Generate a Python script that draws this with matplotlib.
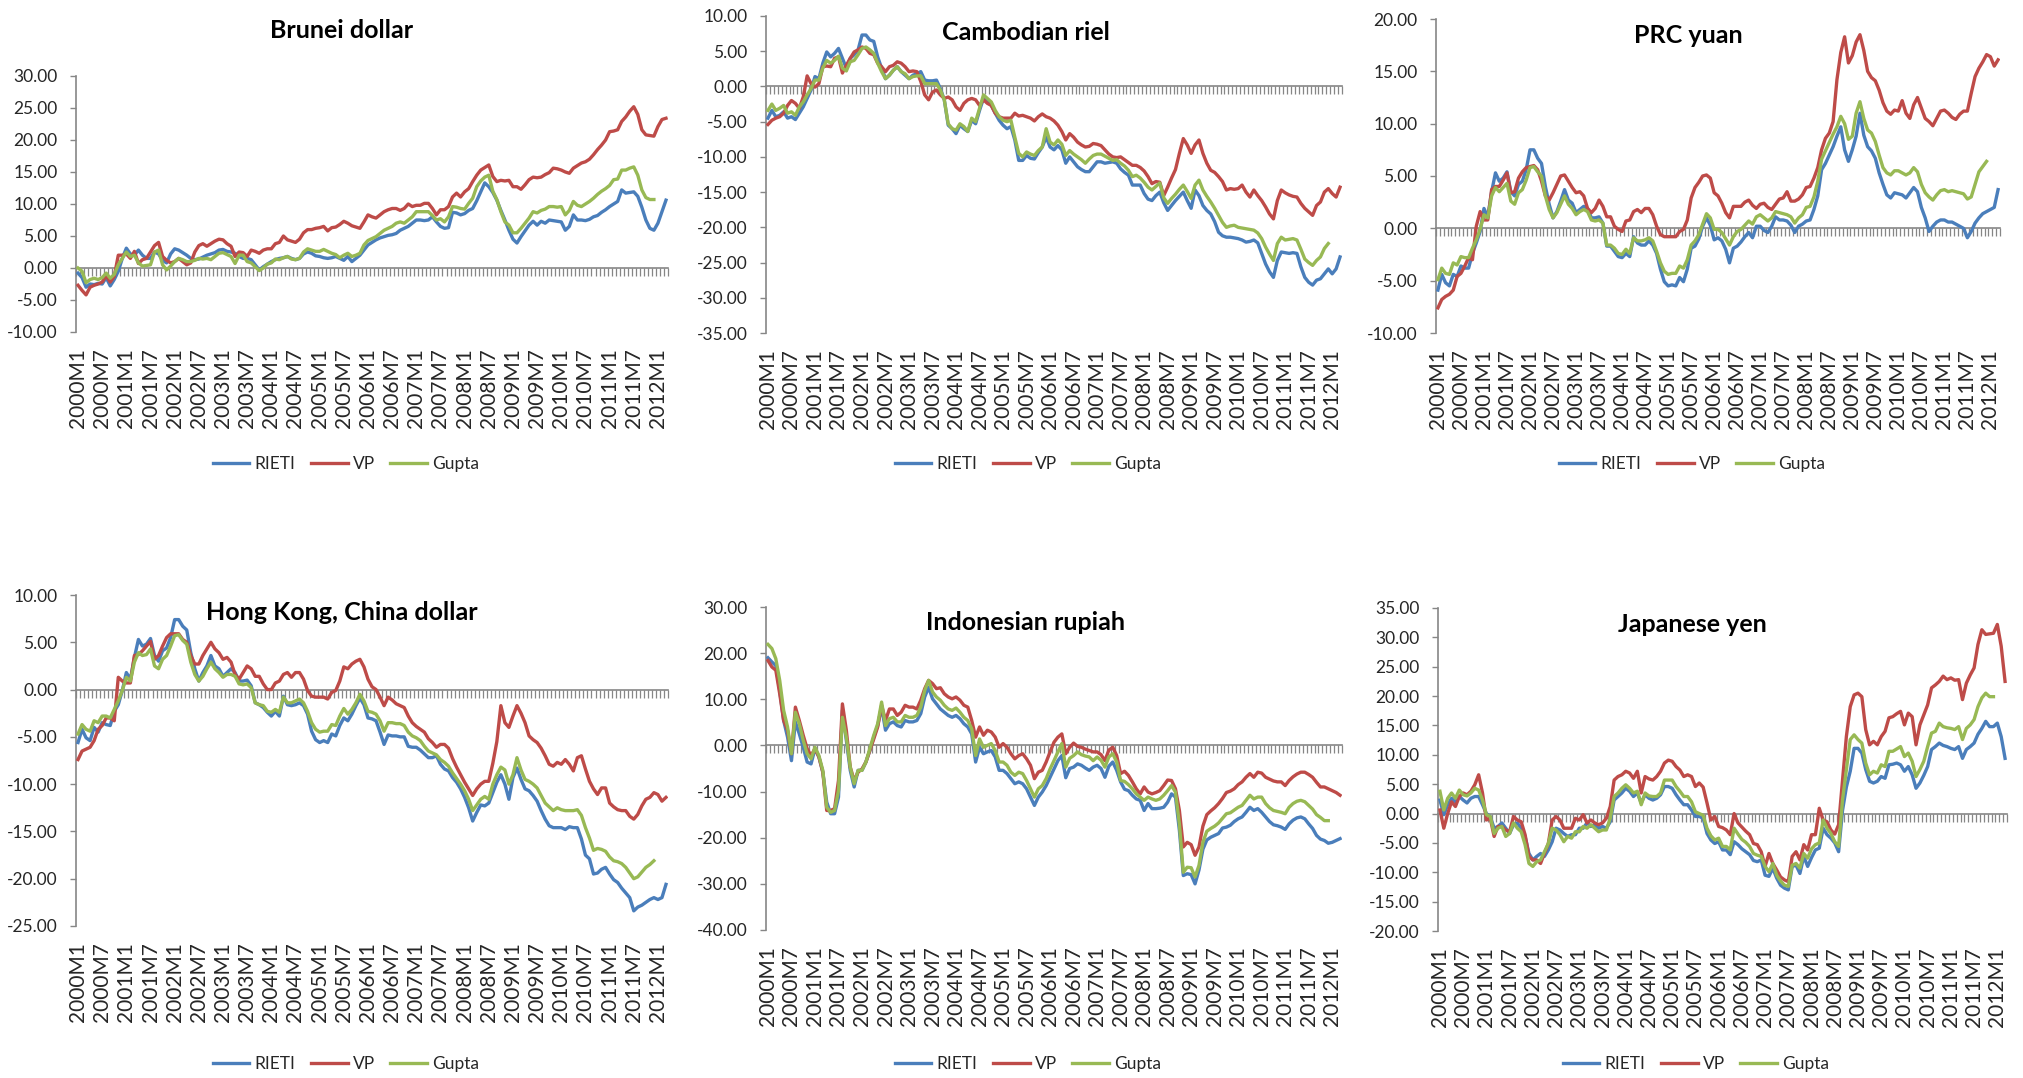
import numpy as np
import matplotlib.pyplot as plt
from matplotlib.ticker import FixedLocator, NullFormatter

plt.rcParams['font.family'] = ['Lato', 'DejaVu Sans']

# monthly categories 2000M1 .. 2012M3
months = [f"{2000 + i // 12}M{i % 12 + 1}" for i in range(147)]
series_names = ['RIETI', 'VP', 'Gupta']

brunei_rieti = [-0.8,-1.5,-3.0,-2.5,-2.6,-2.4,-2.5,-1.5,-2.8,-1.8, -0.5,1.5,3.1,2.2,2.0,2.8,2.0,1.5,1.5,2.5,
    2.2,1.2,0.8,2.2,3.0,2.8,2.4,2.0,1.5,1.3, 1.4,1.7,2.0,2.2,2.4,2.8,2.9,2.6,2.5,2.3,
    1.8,1.5,1.5,1.3,0.5,-0.3,0.2,0.6,1.0,1.3, 1.5,1.6,1.8,1.5,1.3,1.5,2.2,2.5,2.3,1.9,
    1.8,1.6,1.5,1.6,1.8,1.5,1.2,1.8,1.0,1.5, 2.0,2.8,3.6,4.0,4.4,4.7,4.9,5.1,5.2,5.4,
    5.9,6.2,6.5,7.0,7.5,7.5,7.4,7.5,8.0,7.2, 6.5,6.2,6.3,8.7,8.6,8.3,8.5,9.0,9.3,10.5,
    11.9,13.3,12.7,11.8,10.6,9.0,7.5,5.9,4.5,3.9, 4.9,5.8,6.7,7.3,6.7,7.3,7.0,7.5,7.4,7.3,
    7.2,5.9,6.5,8.3,7.5,7.5,7.4,7.6,8.0,8.2, 8.7,9.1,9.6,10.0,10.4,12.2,11.7,11.8,11.9,11.2,
    9.5,7.5,6.2,5.9,7.0,8.8,10.6]
brunei_vp = [-2.7,-3.5,-4.2,-3.0,-2.7,-2.5,-2.2,-1.2,-2.2,-1.3, 2.0,2.0,2.2,1.5,2.6,0.7,1.3,1.5,2.5,3.5,
    4.0,1.8,1.2,0.8,1.0,1.5,1.0,0.5,0.8,2.5, 3.5,3.8,3.4,3.8,4.2,4.5,4.4,3.8,3.4,1.8,
    2.5,2.4,1.8,2.8,2.6,2.3,2.8,3.0,3.0,3.8, 4.0,5.0,4.4,4.2,4.0,4.5,5.5,6.0,6.0,6.2,
    6.3,6.5,5.8,6.3,6.4,6.8,7.3,7.0,6.6,6.4, 6.2,7.2,8.3,8.0,7.8,8.3,8.8,9.1,9.3,9.3,
    9.0,9.3,10.0,9.6,9.8,9.8,10.1,10.1,9.3,8.3, 9.1,9.1,9.6,11.1,11.7,11.1,11.9,12.4,13.5,14.5,
    15.3,15.7,16.1,14.3,13.5,13.7,13.6,13.7,12.7,12.7, 12.3,13.0,13.8,14.2,14.1,14.2,14.6,14.9,15.6,15.5,
    15.3,15.0,14.8,15.6,16.0,16.4,16.6,17.0,17.7,18.5, 19.2,20.0,21.3,21.4,21.6,22.9,23.6,24.5,25.2,24.0,
    21.6,20.8,20.7,20.6,22.1,23.2,23.4]
brunei_gupta = [0.0,-0.5,-2.3,-1.8,-1.6,-1.8,-1.5,-0.8,-1.6,-1.0, 0.5,1.5,2.5,1.8,2.0,0.8,0.3,0.4,0.5,2.5,
    2.8,0.5,-0.3,0.3,1.0,1.5,1.3,1.0,1.0,1.2, 1.5,1.4,1.5,1.3,1.8,2.3,2.4,2.1,1.8,0.7,
    2.0,2.0,1.0,0.8,0.2,-0.4,0.0,0.6,0.8,1.4, 1.3,1.6,1.8,1.4,1.3,1.5,2.5,3.0,2.8,2.6,
    2.6,2.9,2.6,2.3,2.1,1.6,2.0,2.3,1.8,2.0, 2.3,3.6,4.3,4.6,4.9,5.4,5.9,6.2,6.5,7.0,
    7.2,7.0,7.5,8.0,8.8,8.8,8.8,8.8,8.2,7.5, 7.7,7.2,8.0,9.6,9.5,9.3,9.2,10.1,10.9,12.7,
    13.6,14.2,14.5,12.0,10.7,8.8,7.2,6.7,5.5,5.5, 6.2,7.0,7.8,8.8,8.6,9.0,9.2,9.6,9.6,9.5,
    9.6,8.3,9.0,10.4,9.8,9.6,10.0,10.4,10.9,11.5, 12.0,12.4,12.9,13.8,13.9,15.3,15.3,15.6,15.8,14.5,
    12.2,11.0,10.7,10.7]

cambodia_rieti = [-4.5,-3.4,-4.3,-4.1,-3.6,-4.5,-4.3,-4.7,-3.8,-2.9, -1.7,-0.5,1.4,1.1,3.3,4.9,4.2,4.7,5.4,4.0,
    2.6,4.0,4.5,5.2,7.3,7.3,6.6,6.4,4.2,2.6, 1.1,1.6,2.3,2.8,2.1,1.6,1.1,1.6,1.8,2.1,
    0.9,0.8,0.8,0.9,-0.3,-1.9,-5.5,-6.0,-6.7,-5.5, -6.0,-6.4,-4.8,-5.3,-3.4,-1.7,-1.9,-2.7,-3.8,-4.8,
    -5.5,-6.0,-5.7,-7.6,-10.5,-10.5,-9.8,-10.2,-10.3,-9.4, -8.6,-7.2,-8.6,-9.0,-8.4,-9.0,-10.9,-10.0,-10.7,-11.4,
    -11.8,-12.1,-12.1,-11.4,-10.7,-10.7,-10.9,-10.8,-10.7,-10.9, -11.7,-12.2,-12.6,-14.0,-14.0,-14.0,-15.2,-16.0,-16.2,-15.5,
    -15.0,-16.5,-17.6,-16.9,-16.2,-15.6,-15.0,-16.2,-17.3,-14.7, -15.5,-16.9,-17.6,-18.1,-19.2,-20.7,-21.2,-21.4,-21.4,-21.5,
    -21.6,-21.8,-22.1,-22.0,-21.8,-22.2,-23.7,-25.2,-26.3,-27.1, -24.7,-23.5,-23.6,-23.7,-23.6,-23.7,-25.6,-27.1,-27.8,-28.2,
    -27.5,-27.3,-26.6,-25.9,-26.6,-25.9,-24.2]
cambodia_vp = [-5.4,-4.8,-4.5,-4.3,-3.8,-2.7,-2.0,-2.4,-3.1,-1.5, 1.5,0.4,-0.1,0.4,2.8,2.9,2.8,4.0,4.2,1.9,
    3.0,4.0,4.9,5.2,5.6,5.4,4.7,4.5,3.3,2.8, 2.1,2.8,3.0,3.5,3.3,2.8,2.1,2.2,2.1,0.7,
    -1.2,-1.9,-0.8,-0.5,-1.2,-1.7,-1.5,-1.9,-2.9,-3.4, -2.4,-1.9,-1.7,-1.9,-2.7,-1.9,-2.4,-2.7,-3.8,-4.3,
    -4.5,-4.5,-4.5,-3.8,-4.2,-4.1,-4.3,-4.5,-4.9,-4.3, -3.9,-4.3,-4.5,-4.9,-5.5,-6.4,-7.6,-6.7,-7.2,-7.9,
    -8.3,-8.6,-8.5,-8.1,-8.2,-8.4,-9.0,-9.6,-10.0,-10.1, -10.0,-10.4,-10.8,-11.2,-11.2,-11.5,-12.0,-12.8,-13.8,-13.5,
    -13.6,-15.5,-14.3,-13.0,-11.8,-9.5,-7.4,-8.3,-9.5,-8.3, -7.6,-9.5,-10.9,-11.9,-12.2,-12.8,-13.5,-14.7,-14.5,-14.6,
    -14.5,-14.0,-15.0,-15.7,-14.7,-15.5,-16.2,-17.1,-18.1,-18.8, -16.2,-14.7,-15.1,-15.4,-15.6,-15.7,-16.6,-17.3,-17.8,-18.3,
    -16.9,-16.4,-15.0,-14.5,-15.2,-15.7,-14.3]
cambodia_gupta = [-3.4,-2.5,-3.4,-3.1,-2.7,-3.8,-3.6,-4.1,-2.9,-2.2, -1.2,-0.3,0.9,0.9,2.6,3.7,3.3,3.7,4.3,2.6,
    2.2,3.5,3.7,4.5,5.4,5.6,5.2,4.7,3.3,2.1, 1.1,1.6,2.3,2.8,2.1,1.8,1.1,1.4,1.5,1.5,
    0.4,0.4,0.4,0.4,-0.5,-1.9,-5.3,-6.0,-6.2,-5.3, -5.7,-6.4,-4.5,-5.0,-3.1,-1.2,-1.7,-2.2,-3.4,-4.3,
    -4.8,-5.0,-4.8,-7.2,-9.5,-10.0,-9.3,-9.6,-9.8,-9.1, -8.6,-6.0,-7.9,-8.3,-7.6,-8.2,-9.8,-9.1,-9.6,-10.0,
    -10.4,-10.9,-10.3,-9.8,-9.6,-9.6,-9.9,-10.2,-10.5,-10.4, -10.9,-11.3,-11.9,-12.8,-12.6,-13.0,-13.6,-14.3,-14.7,-14.2,
    -13.7,-15.8,-16.6,-15.9,-15.3,-14.6,-14.0,-14.9,-15.9,-14.0, -13.3,-14.7,-15.6,-16.4,-17.3,-18.3,-19.3,-20.0,-19.8,-19.7,
    -20.0,-20.1,-20.2,-20.3,-20.4,-20.8,-21.6,-22.8,-23.8,-24.7, -22.3,-21.4,-21.8,-21.7,-21.6,-21.8,-23.1,-24.5,-25.0,-25.4,
    -24.7,-24.2,-23.0,-22.3]

prc_rieti = [-5.9,-4.4,-5.2,-5.5,-4.4,-4.6,-3.6,-3.8,-3.8,-2.4, -1.4,-0.3,1.9,1.1,3.5,5.3,4.5,4.8,5.4,3.5,
    3.1,4.2,4.5,5.6,7.5,7.5,6.7,6.2,4.0,2.3, 1.0,1.6,2.6,3.7,2.7,2.4,1.5,1.8,2.1,1.9,
    1.0,1.0,1.1,0.5,-1.7,-1.7,-2.2,-2.7,-2.8,-2.4, -2.7,-0.8,-1.4,-1.6,-1.6,-1.2,-1.6,-2.4,-3.9,-5.1,
    -5.5,-5.4,-5.5,-4.7,-5.1,-3.9,-1.9,-1.7,-1.0,0.2, 1.0,0.3,-1.1,-0.9,-1.2,-2.0,-3.3,-1.9,-1.7,-1.3,
    -0.8,-0.4,-0.9,0.2,0.2,-0.2,-0.4,0.2,1.1,0.8, 0.8,0.7,0.3,-0.4,0.2,0.4,0.7,0.8,1.8,3.1,
    5.6,6.2,7.0,7.8,8.8,9.7,7.5,6.4,7.5,8.8, 11.0,8.9,7.8,7.4,6.7,5.3,4.2,3.2,2.9,3.4,
    3.3,3.2,2.9,3.4,3.9,3.5,2.0,1.0,-0.3,0.2, 0.6,0.8,0.8,0.6,0.6,0.4,0.2,0.0,-0.9,-0.3,
    0.5,1.0,1.4,1.6,1.8,2.0,3.7]
prc_vp = [-7.6,-6.8,-6.5,-6.3,-5.9,-4.6,-4.3,-3.6,-2.8,-3.0, 0.2,1.6,0.8,0.8,3.7,4.0,4.0,4.6,5.3,3.4,
    3.5,4.8,5.4,5.8,5.9,6.0,5.6,4.5,3.1,2.7, 3.4,4.2,5.0,5.1,4.5,3.9,3.4,3.5,3.1,1.9,
    1.5,1.9,2.7,2.1,1.1,1.1,0.2,-0.1,-0.3,0.7, 0.8,1.6,1.8,1.5,1.9,1.9,1.3,0.2,-0.6,-0.8,
    -0.8,-0.8,-0.8,-0.3,-0.1,0.8,2.9,3.9,4.4,5.0, 5.1,4.8,3.4,3.1,2.4,1.5,1.0,2.1,2.1,2.1,
    2.5,2.7,2.2,1.9,2.3,2.4,2.0,1.8,2.3,2.8, 2.9,3.5,2.6,2.6,2.8,3.2,3.9,4.0,4.8,5.8,
    7.5,8.6,9.1,10.2,14.2,16.8,18.3,15.8,16.5,17.8, 18.5,17.0,15.0,14.4,14.1,13.2,12.0,11.2,10.9,11.3,
    11.2,12.2,11.0,10.5,11.8,12.5,11.5,10.5,10.2,9.8, 10.5,11.2,11.3,11.0,10.6,10.4,10.9,11.2,11.2,12.9,
    14.5,15.3,15.9,16.6,16.4,15.5,16.1]
prc_gupta = [-4.9,-3.8,-4.3,-4.4,-3.3,-3.5,-2.7,-2.8,-2.8,-1.9, -1.1,-0.1,1.3,1.0,3.1,3.9,3.5,3.9,4.3,2.6,
    2.3,3.4,3.7,4.6,5.8,5.9,5.4,5.0,3.1,1.8, 1.0,1.5,2.3,3.1,2.3,1.9,1.3,1.6,1.8,1.6,
    0.8,0.7,0.8,0.5,-1.6,-1.6,-1.9,-2.4,-2.5,-2.0, -2.4,-0.9,-1.2,-1.2,-1.1,-0.9,-1.2,-2.2,-3.3,-4.1,
    -4.4,-4.3,-4.3,-3.6,-3.8,-3.0,-1.6,-1.2,-0.6,0.4, 1.4,1.0,-0.1,-0.1,-0.4,-1.0,-1.6,-0.8,-0.3,-0.1,
    0.3,0.7,0.4,1.1,1.3,1.0,0.7,1.0,1.6,1.5, 1.4,1.3,1.1,0.5,1.0,1.3,2.0,2.1,3.0,4.5,
    6.6,7.4,8.2,9.0,9.7,10.7,10.0,8.5,8.8,11.0, 12.1,10.5,9.4,9.1,8.3,7.0,5.8,5.3,5.1,5.5,
    5.5,5.3,5.1,5.3,5.8,5.4,4.2,3.4,3.0,2.7, 3.2,3.6,3.7,3.5,3.6,3.5,3.4,3.3,2.8,3.0,
    4.2,5.4,5.9,6.4]

hk_rieti = [-5.6,-4.2,-5.1,-5.4,-4.0,-4.5,-3.5,-3.7,-3.8,-2.3, -1.6,-0.1,1.8,1.1,3.4,5.3,4.6,4.8,5.4,3.6,
    3.0,4.1,4.4,5.5,7.4,7.4,6.7,6.3,3.9,2.2, 0.9,1.8,2.5,3.6,2.5,2.2,1.4,1.8,2.2,1.8,
    0.9,0.9,1.0,0.4,-1.4,-1.6,-1.9,-2.4,-2.8,-2.3, -2.8,-0.7,-1.6,-1.7,-1.6,-1.4,-1.7,-2.6,-4.4,-5.3,
    -5.6,-5.4,-5.6,-4.7,-4.9,-3.8,-3.0,-3.3,-2.6,-1.7, -0.9,-1.6,-3.0,-3.1,-3.3,-4.5,-5.8,-4.8,-4.9,-4.9,
    -5.0,-5.0,-6.0,-6.1,-6.1,-6.4,-6.8,-7.2,-7.2,-7.0, -7.9,-8.4,-8.6,-9.3,-9.8,-10.5,-11.4,-12.5,-13.9,-13.0,
    -12.2,-12.3,-12.0,-10.9,-9.8,-9.0,-10.0,-11.6,-9.3,-8.3, -9.5,-10.5,-10.7,-11.2,-11.8,-12.8,-13.7,-14.4,-14.6,-14.6,
    -14.6,-14.8,-14.5,-14.6,-14.6,-15.8,-17.5,-17.9,-19.5,-19.4, -19.0,-18.8,-19.5,-20.1,-20.4,-21.0,-21.5,-22.0,-23.4,-23.0,
    -22.8,-22.5,-22.2,-22.0,-22.2,-22.0,-20.6]
hk_vp = [-7.4,-6.5,-6.3,-6.1,-5.4,-4.2,-3.8,-3.0,-3.0,-3.3, 1.3,0.9,0.7,0.7,3.6,3.7,4.1,4.6,5.1,3.2,
    3.6,4.6,5.5,5.9,5.9,5.9,5.3,5.0,3.6,2.7, 2.7,3.6,4.3,5.0,4.3,3.9,3.2,3.4,2.9,1.6,
    1.1,1.8,2.5,2.2,1.4,1.4,0.6,0.0,0.0,0.7, 0.9,1.6,1.8,1.3,1.8,1.8,1.1,-0.1,-0.7,-0.8,
    -0.8,-0.8,-1.0,-0.3,-0.1,0.9,2.4,2.2,2.7,3.0, 3.2,2.4,1.1,0.3,0.0,-0.8,-1.7,-0.8,-1.1,-1.5,
    -1.7,-1.9,-2.8,-3.5,-3.9,-4.2,-4.5,-5.2,-5.6,-6.1, -5.8,-5.8,-6.2,-7.3,-8.2,-9.0,-9.8,-10.5,-11.2,-10.5,
    -10.0,-9.7,-9.7,-7.8,-5.5,-1.7,-3.5,-4.0,-2.8,-1.7, -2.5,-3.5,-4.9,-5.3,-5.6,-6.2,-7.0,-7.9,-8.1,-7.7,
    -7.9,-7.4,-7.9,-8.6,-7.2,-7.0,-8.4,-9.7,-10.5,-11.1, -10.4,-10.4,-12.0,-12.4,-12.7,-12.8,-12.8,-13.4,-13.7,-13.2,
    -12.3,-11.6,-11.4,-10.9,-11.1,-11.8,-11.4]
hk_gupta = [-4.7,-3.7,-4.2,-4.4,-3.3,-3.5,-2.8,-2.8,-3.0,-2.1, -1.2,-0.1,1.3,0.9,2.9,3.9,3.6,3.7,4.3,2.5,
    2.2,3.2,3.6,4.6,5.7,5.8,5.2,4.8,2.9,1.6, 0.9,1.4,2.2,2.9,2.2,1.8,1.3,1.6,1.6,1.4,
    0.6,0.5,0.6,0.2,-1.4,-1.6,-1.7,-2.3,-2.4,-2.1, -2.4,-0.8,-1.4,-1.4,-1.2,-1.0,-1.4,-2.3,-3.5,-4.2,
    -4.5,-4.4,-4.4,-3.7,-3.8,-2.8,-2.0,-2.6,-2.1,-1.4, -0.5,-1.2,-2.3,-2.4,-2.6,-3.3,-4.4,-3.5,-3.5,-3.6,
    -3.6,-3.8,-4.5,-4.9,-5.1,-5.4,-6.0,-6.5,-6.7,-6.9, -7.4,-7.7,-8.1,-8.8,-9.4,-10.0,-10.7,-11.6,-12.8,-12.2,
    -11.6,-11.3,-11.6,-10.0,-9.0,-8.2,-8.5,-10.0,-9.0,-7.2, -8.5,-9.5,-9.7,-10.0,-10.4,-11.2,-12.0,-12.4,-12.8,-12.5,
    -12.7,-12.8,-12.8,-12.8,-12.7,-13.3,-14.6,-15.7,-17.0,-16.8, -16.9,-17.1,-17.7,-18.1,-18.2,-18.4,-18.8,-19.4,-20.0,-19.8,
    -19.3,-18.8,-18.5,-18.1]

indo_rieti = [19.0,18.1,17.3,11.9,5.4,1.8,-3.3,5.1,2.5,-0.4, -3.6,-4.0,-0.7,-2.5,-5.8,-12.3,-14.8,-14.8,-11.2,7.6,
    1.1,-5.4,-9.0,-5.4,-5.4,-3.6,-1.1,1.8,4.3,8.3, 3.3,4.7,5.1,4.3,4.0,5.4,5.1,5.1,5.4,6.9,
    10.5,12.6,10.1,9.0,7.9,7.2,6.5,6.1,6.5,5.8, 4.7,4.0,2.5,-3.6,-0.4,-1.8,-1.4,-1.1,-2.5,-5.4,
    -5.4,-6.1,-7.2,-8.3,-7.9,-8.3,-9.4,-11.2,-13.0,-11.2, -10.1,-8.7,-6.9,-5.1,-3.3,-2.2,-7.0,-5.0,-4.7,-4.0,
    -4.3,-4.9,-5.4,-4.7,-4.3,-5.0,-6.9,-4.5,-3.6,-5.4, -7.9,-9.5,-9.8,-10.8,-11.6,-11.9,-14.1,-12.6,-13.7,-13.7,
    -13.6,-13.4,-12.3,-10.5,-11.2,-18.4,-28.2,-27.8,-28.0,-30.0, -27.0,-22.5,-20.5,-19.9,-19.5,-19.1,-17.9,-17.7,-17.3,-16.5,
    -15.9,-15.5,-14.5,-13.4,-14.1,-13.7,-14.5,-15.5,-16.5,-17.2, -17.4,-17.7,-18.2,-17.0,-16.2,-15.7,-15.5,-15.9,-17.0,-18.0,
    -19.5,-20.3,-20.6,-21.2,-21.0,-20.6,-20.2]
indo_vp = [18.4,17.0,16.3,11.2,5.4,3.3,-1.8,8.3,5.4,2.2, -0.7,-2.2,-0.7,-2.5,-5.8,-14.1,-14.1,-13.7,-7.6,9.0,
    3.3,-4.7,-7.6,-5.8,-5.1,-3.6,-1.1,1.4,4.0,8.7, 5.4,7.9,7.9,6.5,7.2,8.7,8.3,8.3,7.9,9.8,
    12.3,14.1,13.4,12.3,12.5,11.2,10.5,10.1,10.5,9.8, 8.7,8.3,5.4,1.8,4.0,2.2,3.3,2.9,1.8,-0.4,
    0.4,-0.4,-1.8,-2.9,-2.2,-1.8,-2.9,-4.3,-7.2,-5.8, -5.4,-3.6,-1.4,0.7,1.8,2.5,-1.8,-0.4,0.5,-0.2,
    -0.4,-0.8,-1.1,-1.4,-1.4,-2.0,-3.3,-1.0,-0.4,-2.2, -6.1,-5.6,-6.5,-7.9,-9.4,-10.5,-9.0,-10.1,-10.5,-10.2,
    -9.8,-8.7,-7.5,-7.6,-9.4,-14.1,-22.0,-21.0,-21.5,-23.8, -22.0,-17.5,-15.0,-14.2,-13.5,-12.6,-11.5,-10.2,-9.9,-9.4,
    -8.5,-7.9,-6.9,-6.1,-6.9,-5.8,-6.0,-6.9,-7.3,-7.7, -7.9,-7.9,-8.7,-7.6,-6.8,-6.2,-5.8,-5.8,-6.3,-6.9,
    -8.0,-9.0,-9.0,-9.4,-9.8,-10.2,-10.8]
indo_gupta = [21.9,21.0,18.8,14.1,7.6,4.0,-1.8,7.2,4.7,1.1, -1.8,-2.9,-0.4,-2.2,-5.4,-13.4,-14.5,-14.1,-9.8,6.1,
    1.8,-4.7,-8.3,-5.4,-5.4,-3.6,-0.7,2.2,4.7,9.4, 4.3,5.8,6.1,5.1,5.1,6.5,6.1,6.1,6.5,8.3,
    11.9,14.1,11.6,10.5,9.8,8.7,7.9,7.6,8.1,7.2, 6.1,5.4,3.6,-2.2,1.4,-0.4,0.0,0.4,-1.1,-3.6,
    -3.6,-4.3,-5.8,-6.5,-5.8,-6.1,-7.6,-9.4,-11.2,-9.4, -8.7,-7.2,-5.1,-3.3,-1.4,0.4,-4.7,-2.8,-2.2,-1.4,
    -2.0,-2.3,-2.5,-3.3,-2.5,-3.2,-4.7,-2.5,-1.8,-3.6, -7.6,-7.8,-8.5,-9.4,-10.5,-11.2,-11.9,-11.2,-11.6,-11.9,
    -11.6,-10.8,-9.8,-8.7,-10.1,-17.0,-27.5,-26.4,-26.5,-28.5, -26.0,-21.0,-18.6,-18.0,-17.5,-16.8,-15.8,-14.8,-14.6,-14.0,
    -13.4,-13.0,-11.9,-10.8,-11.6,-11.2,-11.2,-12.6,-13.5,-14.1, -14.3,-14.5,-14.8,-13.4,-12.6,-12.1,-11.9,-12.2,-13.0,-13.8,
    -15.0,-15.6,-16.3,-16.3]

japan_rieti = [2.3,-0.2,1.5,2.6,2.0,2.9,2.3,1.8,2.6,2.9, 2.9,1.5,0.0,-0.5,-2.5,-2.2,-1.6,-2.5,-3.4,-1.9,
    -1.6,-2.5,-3.9,-6.8,-7.9,-7.3,-6.8,-7.3,-6.2,-4.8, -2.5,-2.8,-3.4,-3.9,-3.6,-3.6,-2.5,-2.5,-1.6,-2.2,
    -1.9,-2.5,-2.2,-2.5,-1.4,2.3,2.9,3.5,4.3,3.8, 2.9,3.5,1.8,3.2,2.6,2.3,2.6,3.2,4.6,4.6,
    4.3,3.2,2.3,1.5,1.5,0.6,-0.5,-0.5,-0.8,-3.4, -4.5,-5.1,-4.8,-6.2,-6.2,-7.0,-4.8,-5.3,-6.0,-6.5,
    -7.0,-8.0,-8.2,-7.9,-10.5,-10.7,-9.3,-11.0,-12.2,-12.7, -13.0,-9.0,-8.8,-10.2,-7.3,-9.0,-7.5,-6.2,-5.9,-2.5,
    -3.6,-4.2,-5.0,-6.5,0.5,4.5,7.2,11.1,11.1,10.3, 7.5,5.5,5.2,5.5,6.3,6.0,8.3,8.4,8.6,8.3,
    7.2,8.0,6.6,4.3,5.2,6.5,8.0,10.9,11.4,12.0, 11.6,11.4,11.1,10.9,11.4,9.4,10.9,11.4,12.0,13.5,
    14.5,15.7,14.8,14.8,15.4,13.1,9.4]
japan_vp = [0.6,-2.5,0.0,2.0,1.2,2.9,3.5,3.2,3.8,4.9, 6.6,3.5,-1.1,-0.8,-3.9,-2.2,-2.2,-2.8,-3.1,-0.5,
    -1.1,-1.4,-3.6,-7.3,-7.9,-7.9,-8.5,-6.8,-5.1,-1.1, -0.5,-1.1,-2.5,-2.5,-2.5,-0.8,-1.1,-0.2,-1.6,-1.1,
    -1.6,-1.9,-1.6,-0.8,1.2,5.7,6.3,6.6,7.2,6.9, 6.0,7.2,3.5,6.3,5.9,5.7,6.3,7.2,8.6,9.1,
    8.9,8.0,7.4,6.3,6.6,6.3,4.6,5.2,4.5,1.8, -1.1,-0.5,-2.2,-2.4,-2.8,-3.6,0.0,-1.6,-2.3,-3.0,
    -3.6,-5.1,-5.3,-6.5,-9.0,-6.8,-8.5,-9.6,-10.8,-11.3, -11.6,-7.3,-6.5,-7.9,-5.3,-6.2,-3.6,-3.6,0.9,-1.1,
    -1.4,-2.8,-3.5,-1.9,5.7,13.1,18.2,20.2,20.5,19.9, 14.3,11.7,12.3,11.7,13.1,14.0,16.3,16.5,17.0,17.4,
    15.1,17.1,16.5,11.7,15.1,16.8,18.5,21.4,21.9,22.5, 23.4,22.8,23.1,22.7,22.8,19.4,22.2,23.6,24.8,28.8,
    31.3,30.5,30.6,30.7,32.2,28.5,22.5]
japan_gupta = [3.8,0.6,2.6,3.5,2.6,4.0,3.2,3.0,3.5,4.3, 4.0,2.3,-0.2,-0.5,-3.4,-2.5,-2.2,-3.9,-3.4,-1.6,
    -2.5,-3.1,-5.3,-8.5,-9.0,-8.2,-7.9,-6.5,-5.1,-2.5, -2.8,-3.6,-4.8,-3.9,-4.2,-3.1,-3.1,-2.2,-2.5,-1.9,
    -2.5,-3.1,-2.8,-2.8,-0.8,2.9,3.5,4.3,4.9,4.3, 3.5,3.8,1.5,3.5,3.0,2.9,2.9,3.5,5.7,5.7,
    5.7,4.6,3.8,2.9,2.9,2.0,0.3,0.0,-0.3,-2.5, -3.8,-4.5,-4.2,-5.6,-5.6,-6.2,-2.5,-3.5,-4.4,-4.9,
    -5.6,-6.8,-7.1,-7.3,-9.0,-9.9,-8.5,-10.5,-11.5,-12.2, -12.4,-8.8,-8.5,-9.3,-6.8,-7.6,-6.0,-5.3,-5.0,-1.1,
    -2.5,-3.4,-4.8,-5.6,2.3,7.4,12.6,13.4,12.6,12.0, 8.6,6.6,7.2,6.9,8.3,8.0,10.6,10.6,11.0,11.4,
    9.7,10.3,8.9,6.3,7.5,8.9,11.4,13.7,14.0,15.4, 14.8,14.6,14.5,14.3,14.8,12.6,14.5,15.1,16.0,18.2,
    19.7,20.5,19.9,19.9]

# ---- layout (pixel positions in a 2023 x 1078 canvas) ----
W, H = 2023, 1078
COLORS = ['#4A7EBB', '#BE4B48', '#98B954']
GRAY = '#868686'
TXT = '#262626'

panels = [
    ('Brunei dollar', (brunei_rieti, brunei_vp, brunei_gupta), (-10, 30), 5,
     (76, 668, 76, 332), (342, 38), (346, 464)),
    ('Cambodian riel', (cambodia_rieti, cambodia_vp, cambodia_gupta), (-35, 10), 5,
     (766, 1342, 16, 333), (1026, 40), (1028, 464)),
    ('PRC yuan', (prc_rieti, prc_vp, prc_gupta), (-10, 20), 5,
     (1436, 2000, 19, 333), (1688, 43), (1692, 464)),
    ('Hong Kong, China dollar', (hk_rieti, hk_vp, hk_gupta), (-25, 10), 5,
     (76, 668, 595, 926), (342, 620), (346, 1064)),
    ('Indonesian rupiah', (indo_rieti, indo_vp, indo_gupta), (-40, 30), 10,
     (766, 1342, 607, 930), (1025, 630), (1028, 1064)),
    ('Japanese yen', (japan_rieti, japan_vp, japan_gupta), (-20, 35), 5,
     (1438, 2007, 608, 931), (1692, 632), (1696, 1064)),
]

fig = plt.figure(figsize=(W / 100, H / 100), dpi=100)

for title, data, ylim, step, box, title_xy, leg_xy in panels:
    x0, x1, ytop, ybot = box
    ax = fig.add_axes([x0 / W, 1 - ybot / H, (x1 - x0) / W, (ybot - ytop) / H])

    for vals, name, col in zip(data, series_names, COLORS):
        ax.plot(np.arange(len(vals)), vals, color=col, lw=2.4, label=name,
                solid_joinstyle='round', zorder=3)

    ax.set_xlim(-0.5, len(months) - 0.5)
    ax.set_ylim(*ylim)
    yt = np.arange(ylim[0], ylim[1] + 0.01, step)
    ax.set_yticks(yt)
    ax.set_yticklabels([f"{v:.2f}" for v in yt])

    for s in ('top', 'right'):
        ax.spines[s].set_visible(False)
    ax.spines['left'].set_color(GRAY)
    ax.spines['left'].set_linewidth(1.2)
    ax.spines['bottom'].set_position(('data', 0))
    ax.spines['bottom'].set_color(GRAY)
    ax.spines['bottom'].set_linewidth(1.2)
    ax.spines['bottom'].set_zorder(1)

    # month tick marks on the zero line
    ax.xaxis.set_major_locator(FixedLocator(np.arange(-0.5, len(months), 1)))
    ax.xaxis.set_major_formatter(NullFormatter())
    ax.tick_params(axis='x', length=5.8, width=0.9, color=GRAY, direction='out')
    ax.tick_params(axis='y', length=4.3, width=1.0, color=GRAY, pad=9,
                   labelsize=12.5, labelcolor=TXT)

    # category labels at the bottom of the plot area
    sec = ax.secondary_xaxis('bottom')
    pos = np.arange(0, len(months), 6)
    sec.set_xticks(pos, [months[i] for i in pos])
    sec.tick_params(length=0, pad=11.5, labelsize=15, labelrotation=90, labelcolor=TXT)
    sec.spines['bottom'].set_visible(False)

    fig.text(title_xy[0] / W, 1 - title_xy[1] / H, title, ha='center', va='baseline',
             fontsize=18, fontweight='bold', color='black')

    ax.legend(loc='center', bbox_to_anchor=(leg_xy[0] / W, 1 - leg_xy[1] / H),
              bbox_transform=fig.transFigure, ncol=3, frameon=False, fontsize=12.5,
              handlelength=2.1, handletextpad=0.3, columnspacing=0.9, labelcolor=TXT)

fig.savefig('out.png', dpi=100)
